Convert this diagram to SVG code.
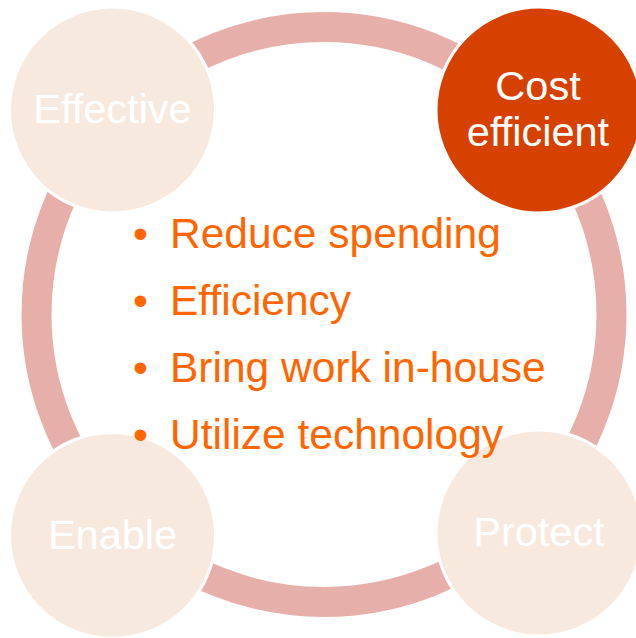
<svg xmlns="http://www.w3.org/2000/svg" width="636" height="638" viewBox="0 0 636 638">
  <style>
    .ring { fill: none; stroke: #E7AFAA; stroke-width: 30; }
    .node { fill: #F8E9DE; stroke: #FFFFFF; stroke-width: 3; }
    .node-active { fill: #D64100; stroke: #FFFFFF; stroke-width: 3; }
    .label { font-family: "Liberation Sans", Arial, sans-serif; font-size: 41.5px; fill: #FFFFFF; text-anchor: middle; }
    .bullet { font-family: "Liberation Sans", Arial, sans-serif; font-size: 42.5px; fill: #FF6600; }
  </style>
  <rect width="636" height="638" fill="#FFFFFF"/>

  <!-- cycle ring linking the four nodes -->
  <g id="connectors">
    <circle class="ring" cx="324" cy="314.5" r="287.5"/>
  </g>

  <g id="node-effective">
    <circle class="node" cx="112.5" cy="110" r="103"/>
    <text class="label" x="112.5" y="123">Effective</text>
  </g>

  <g id="node-cost-efficient">
    <circle class="node-active" cx="539" cy="110" r="103"/>
    <text class="label" x="538" y="100">Cost</text>
    <text class="label" x="538" y="146">efficient</text>
  </g>

  <g id="node-enable">
    <circle class="node" cx="112.5" cy="535.5" r="103"/>
    <text class="label" x="112.5" y="549">Enable</text>
  </g>

  <g id="node-protect">
    <circle class="node" cx="539" cy="533" r="103"/>
    <text class="label" x="539" y="546">Protect</text>
  </g>

  <!-- central bullet list, drawn over the nodes -->
  <g id="bullets" class="bullet">
    <text x="133" y="248">•</text><text x="170" y="248">Reduce spending</text>
    <text x="133" y="315">•</text><text x="170" y="315">Efficiency</text>
    <text x="133" y="382">•</text><text x="170" y="382">Bring work in-house</text>
    <text x="133" y="449">•</text><text x="170" y="449">Utilize technology</text>
  </g>
</svg>
